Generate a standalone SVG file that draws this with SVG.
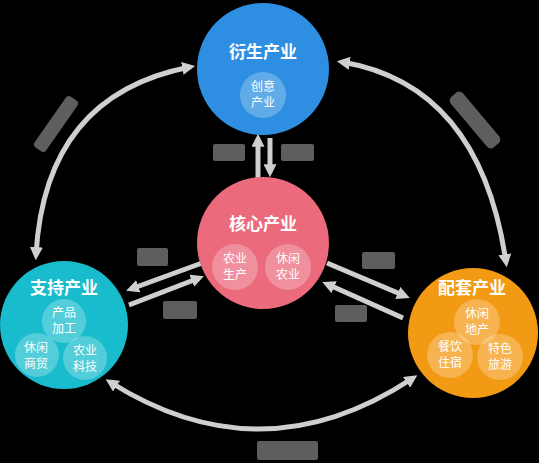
<svg xmlns="http://www.w3.org/2000/svg" width="539" height="463" viewBox="0 0 539 463">
<defs>
<marker id="ah" viewBox="0 0 10 10" refX="6" refY="5" markerWidth="2.6" markerHeight="2.6" orient="auto-start-reverse" markerUnits="strokeWidth">
<path d="M0,0 L10,5 L0,10 z" fill="#cfcfcf"/>
</marker>
<style>
.bg{fill:#000}
.conn{fill:none;stroke:#cfcfcf;stroke-width:5;stroke-linecap:butt}
.lab{fill:#5e5e5e}
.title{font-family:"Noto Sans CJK SC","Noto Sans",sans-serif;font-size:17px;font-weight:bold;fill:#fff;text-anchor:middle}
.sub{font-family:"Noto Sans CJK SC","Noto Sans",sans-serif;font-size:12px;fill:#fff;text-anchor:middle}
.inner{fill:#fff;fill-opacity:0.25}
</style>
</defs>
<rect class="bg" x="0" y="0" width="539" height="463"/>

<g id="connectors">
<path class="conn" d="M190,67 Q45,95 36,255" marker-start="url(#ah)" marker-end="url(#ah)"/>
<path class="conn" d="M342,62 Q480,85 506,262" marker-start="url(#ah)" marker-end="url(#ah)"/>
<path class="conn" d="M110,382 Q262,478 413,378" marker-start="url(#ah)" marker-end="url(#ah)"/>
<path class="conn" d="M258,178 L258,139" marker-end="url(#ah)"/>
<path class="conn" d="M270,138 L270,172" marker-end="url(#ah)"/>
<path class="conn" d="M202,263 L131,289" marker-end="url(#ah)"/>
<path class="conn" d="M129,305 L199,278" marker-end="url(#ah)"/>
<path class="conn" d="M327,263 L405,296" marker-end="url(#ah)"/>
<path class="conn" d="M403,318 L327,284" marker-end="url(#ah)"/>
</g>

<g id="labels">
<rect class="lab" x="-31" y="-7" width="62" height="14" rx="4" transform="translate(56,124) rotate(-55)"/>
<rect class="lab" x="-33" y="-8" width="66" height="16" rx="5" transform="translate(475,120) rotate(50)"/>
<rect class="lab" x="213" y="144" width="32" height="17" rx="2"/>
<rect class="lab" x="281" y="144" width="33" height="17" rx="2"/>
<rect class="lab" x="137" y="248" width="31" height="18" rx="2"/>
<rect class="lab" x="163" y="301" width="34" height="18" rx="2"/>
<rect class="lab" x="362" y="252" width="33" height="17" rx="2"/>
<rect class="lab" x="335" y="305" width="32" height="17" rx="2"/>
<rect class="lab" x="257" y="441" width="61" height="19" rx="2"/>
</g>

<g id="node-derived">
<circle cx="263" cy="69" r="66" fill="#2e8fe2"/>
<text class="title" x="263" y="58">衍生产业</text>
<circle class="inner" cx="263" cy="95" r="23"/>
<text class="sub" x="263" y="91">创意<tspan x="263" dy="16">产业</tspan></text>
</g>

<g id="node-core">
<circle cx="263" cy="243" r="66" fill="#eb6a7c"/>
<text class="title" x="263" y="230">核心产业</text>
<circle class="inner" cx="235" cy="267" r="23"/>
<text class="sub" x="235" y="263">农业<tspan x="235" dy="16">生产</tspan></text>
<circle class="inner" cx="288" cy="267" r="23"/>
<text class="sub" x="288" y="263">休闲<tspan x="288" dy="16">农业</tspan></text>
</g>

<g id="node-support">
<circle cx="64" cy="325" r="64" fill="#19bccc"/>
<text class="title" x="64" y="294">支持产业</text>
<circle class="inner" cx="64" cy="321" r="22"/>
<circle class="inner" cx="37" cy="355" r="22"/>
<circle class="inner" cx="85" cy="358" r="22"/>
<text class="sub" x="64" y="317">产品<tspan x="64" dy="16">加工</tspan></text>
<text class="sub" x="36" y="352">休闲<tspan x="36" dy="16">商贸</tspan></text>
<text class="sub" x="85" y="355">农业<tspan x="85" dy="16">科技</tspan></text>
</g>

<g id="node-supporting">
<circle cx="473" cy="333" r="65" fill="#f39a14"/>
<text class="title" x="472" y="294">配套产业</text>
<circle class="inner" cx="477" cy="322" r="23"/>
<circle class="inner" cx="450" cy="355" r="23"/>
<circle class="inner" cx="500" cy="357" r="23"/>
<text class="sub" x="477" y="318">休闲<tspan x="477" dy="16">地产</tspan></text>
<text class="sub" x="450" y="351">餐饮<tspan x="450" dy="16">住宿</tspan></text>
<text class="sub" x="500" y="353">特色<tspan x="500" dy="16">旅游</tspan></text>
</g>
</svg>
